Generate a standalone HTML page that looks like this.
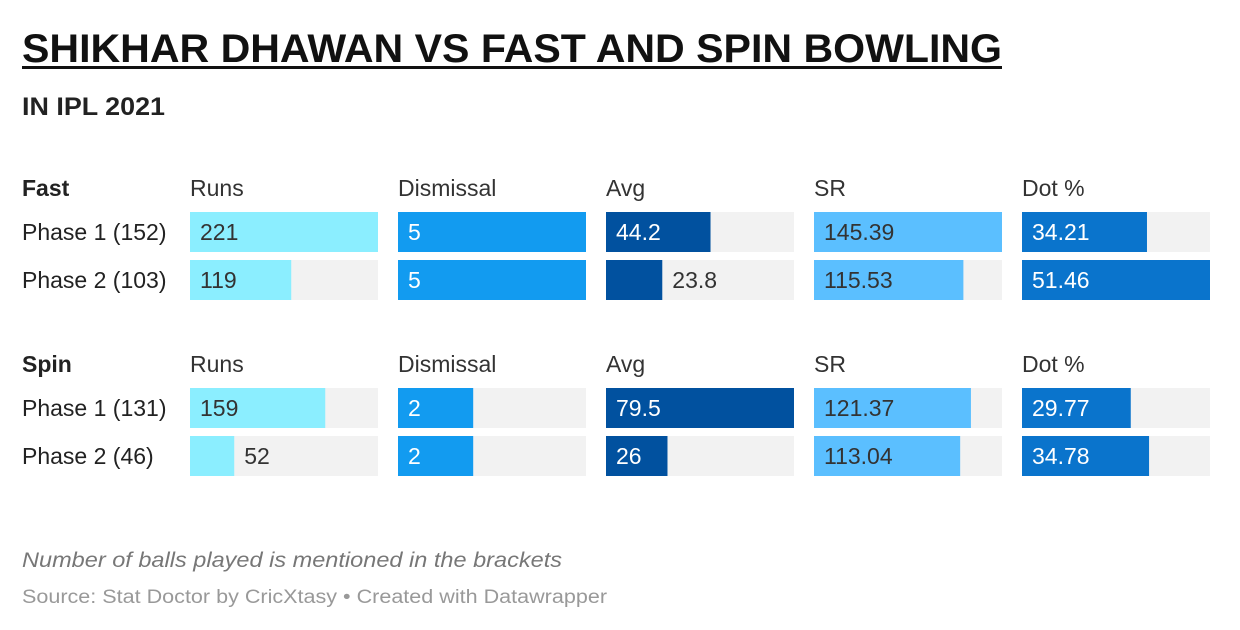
<!DOCTYPE html>
<html><head><meta charset="utf-8"><style>
html,body{margin:0;padding:0;background:#fff;}
svg{display:block;font-family:"Liberation Sans",Arial,sans-serif;}
</style></head><body>
<svg id="c" width="1240" height="630">
<text x="22" y="62" font-size="40" font-weight="bold" fill="#111" textLength="980" lengthAdjust="spacingAndGlyphs">SHIKHAR DHAWAN VS FAST AND SPIN BOWLING</text>
<rect x="22" y="66" width="980" height="3" fill="#111"/>
<text x="22" y="115" font-size="25" font-weight="bold" fill="#222" textLength="143" lengthAdjust="spacingAndGlyphs">IN IPL 2021</text>
<g id="g"></g>
<text x="22" y="567" font-size="21" font-style="italic" fill="#777" textLength="540" lengthAdjust="spacingAndGlyphs">Number of balls played is mentioned in the brackets</text>
<text x="22" y="603" font-size="19" fill="#999" textLength="585" lengthAdjust="spacingAndGlyphs">Source: Stat Doctor by CricXtasy • Created with Datawrapper</text>
</svg>
<script>
const metrics=["Runs","Dismissal","Avg","SR","Dot %"];
const groups=["Fast","Spin"];
const rowLabels=[["Phase 1 (152)","Phase 2 (103)"],["Phase 1 (131)","Phase 2 (46)"]];
const runs=[[221,119],[159,52]];
const dismissal=[[5,5],[2,2]];
const avg=[[44.2,23.8],[79.5,26]];
const sr=[[145.39,115.53],[121.37,113.04]];
const dot=[[34.21,51.46],[29.77,34.78]];
const labels={runs:[["221","119"],["159","52"]],dismissal:[["5","5"],["2","2"]],avg:[["44.2","23.8"],["79.5","26"]],sr:[["145.39","115.53"],["121.37","113.04"]],dot:[["34.21","51.46"],["29.77","34.78"]]};
const series=[runs,dismissal,avg,sr,dot];
const keys=["runs","dismissal","avg","sr","dot"];
const colors=["#8beeff","#129bf0","#01519f","#5bbfff","#0a74cc"];
const textIn=["#333","#fff","#fff","#333","#fff"];
const NS="http://www.w3.org/2000/svg";
const g=document.getElementById("g");
function mk(t,a){const e=document.createElementNS(NS,t);for(const k in a)e.setAttribute(k,a[k]);g.appendChild(e);return e;}
const colX=[190,398,606,814,1022],W=188,H=40,FS=23;
const groupY=[176,352];
groups.forEach((gn,gi)=>{
  const y0=groupY[gi];
  let t=mk("text",{x:22,y:y0+20,"font-size":FS,"font-weight":"bold",fill:"#222"});t.textContent=gn;
  
  
  metrics.forEach((m,mi)=>{
    let h=mk("text",{x:colX[mi],y:y0+20,"font-size":FS,fill:"#333"});h.textContent=m;
    
    
  });
  rowLabels[gi].forEach((rl,ri)=>{
    const y=y0+36+ri*48;
    let l=mk("text",{x:22,y:y+28,"font-size":FS,fill:"#222"});l.textContent=rl;
    
    
    series.forEach((s,mi)=>{
      const max=Math.max(...s.flat());
      const w=s[gi][ri]/max*W;
      let bg=mk("rect",{x:colX[mi],y:y,width:W,height:H,fill:"#f2f2f2"});
      
      
      let b=mk("rect",{x:colX[mi],y:y,width:w,height:H,fill:colors[mi]});
      
      
      const txt=labels[keys[mi]][gi][ri];
      const inside=w>txt.length*12+24;
      let v=mk("text",{x:inside?colX[mi]+10:colX[mi]+w+10,y:y+28,"font-size":FS,fill:inside?textIn[mi]:"#333"});
      v.textContent=txt;
      
      
    });
  });
});
</script>
</body></html>
